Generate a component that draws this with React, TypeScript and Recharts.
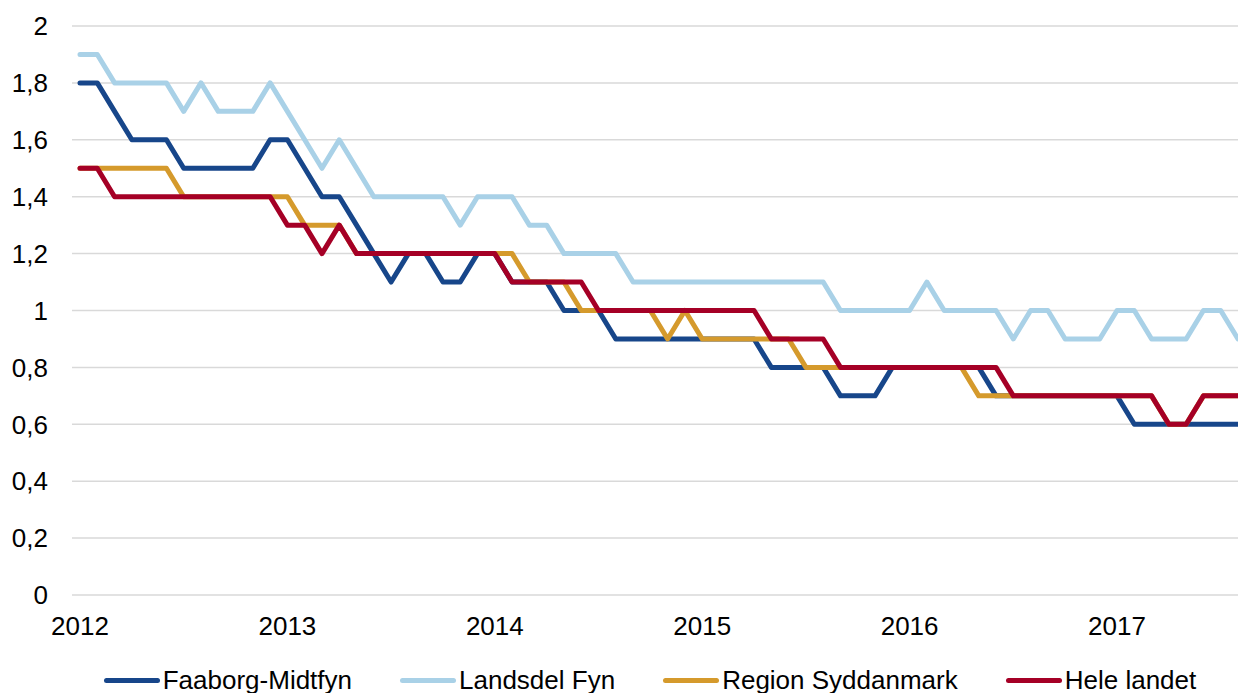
import { LineChart, Line, XAxis, YAxis, CartesianGrid, Legend } from "recharts";

const years = ["2012", "2013", "2014", "2015", "2016", "2017"];
const monthNums = ["01", "02", "03", "04", "05", "06", "07", "08", "09", "10", "11", "12"];

// monthly categories, jan 2012 .. aug 2017
const months = years.flatMap((y) => monthNums.map((m) => `${y}-${m}`)).slice(0, 68);
const yearTicks = years.map((y) => `${y}-01`);
const yTicks = [0, 0.2, 0.4, 0.6, 0.8, 1, 1.2, 1.4, 1.6, 1.8, 2];

const faaborg = [
  1.8, 1.8, 1.7, 1.6, 1.6, 1.6, 1.5, 1.5, 1.5, 1.5, 1.5, 1.6,
  1.6, 1.5, 1.4, 1.4, 1.3, 1.2, 1.1, 1.2, 1.2, 1.1, 1.1, 1.2,
  1.2, 1.1, 1.1, 1.1, 1.0, 1.0, 1.0, 0.9, 0.9, 0.9, 0.9, 0.9,
  0.9, 0.9, 0.9, 0.9, 0.8, 0.8, 0.8, 0.8, 0.7, 0.7, 0.7, 0.8,
  0.8, 0.8, 0.8, 0.8, 0.8, 0.7, 0.7, 0.7, 0.7, 0.7, 0.7, 0.7,
  0.7, 0.6, 0.6, 0.6, 0.6, 0.6, 0.6, 0.6,
];

const landsdel = [
  1.9, 1.9, 1.8, 1.8, 1.8, 1.8, 1.7, 1.8, 1.7, 1.7, 1.7, 1.8,
  1.7, 1.6, 1.5, 1.6, 1.5, 1.4, 1.4, 1.4, 1.4, 1.4, 1.3, 1.4,
  1.4, 1.4, 1.3, 1.3, 1.2, 1.2, 1.2, 1.2, 1.1, 1.1, 1.1, 1.1,
  1.1, 1.1, 1.1, 1.1, 1.1, 1.1, 1.1, 1.1, 1.0, 1.0, 1.0, 1.0,
  1.0, 1.1, 1.0, 1.0, 1.0, 1.0, 0.9, 1.0, 1.0, 0.9, 0.9, 0.9,
  1.0, 1.0, 0.9, 0.9, 0.9, 1.0, 1.0, 0.9,
];

const region = [
  1.5, 1.5, 1.5, 1.5, 1.5, 1.5, 1.4, 1.4, 1.4, 1.4, 1.4, 1.4,
  1.4, 1.3, 1.3, 1.3, 1.2, 1.2, 1.2, 1.2, 1.2, 1.2, 1.2, 1.2,
  1.2, 1.2, 1.1, 1.1, 1.1, 1.0, 1.0, 1.0, 1.0, 1.0, 0.9, 1.0,
  0.9, 0.9, 0.9, 0.9, 0.9, 0.9, 0.8, 0.8, 0.8, 0.8, 0.8, 0.8,
  0.8, 0.8, 0.8, 0.8, 0.7, 0.7, 0.7, 0.7, 0.7, 0.7, 0.7, 0.7,
  0.7, 0.7, 0.7, 0.6, 0.6, 0.7, 0.7, 0.7,
];

const hele = [
  1.5, 1.5, 1.4, 1.4, 1.4, 1.4, 1.4, 1.4, 1.4, 1.4, 1.4, 1.4,
  1.3, 1.3, 1.2, 1.3, 1.2, 1.2, 1.2, 1.2, 1.2, 1.2, 1.2, 1.2,
  1.2, 1.1, 1.1, 1.1, 1.1, 1.1, 1.0, 1.0, 1.0, 1.0, 1.0, 1.0,
  1.0, 1.0, 1.0, 1.0, 0.9, 0.9, 0.9, 0.9, 0.8, 0.8, 0.8, 0.8,
  0.8, 0.8, 0.8, 0.8, 0.8, 0.8, 0.7, 0.7, 0.7, 0.7, 0.7, 0.7,
  0.7, 0.7, 0.7, 0.6, 0.6, 0.7, 0.7, 0.7,
];

const series = [
  { key: "Faaborg-Midtfyn", values: faaborg, color: "#17468a" },
  { key: "Landsdel Fyn", values: landsdel, color: "#a9d1e7" },
  { key: "Region Syddanmark", values: region, color: "#d59a2c" },
  { key: "Hele landet", values: hele, color: "#a50026" },
];

const data = months.map((m, i) => {
  const row: Record<string, string | number> = { month: m };
  series.forEach((s) => {
    row[s.key] = s.values[i];
  });
  return row;
});

const FONT = "'Liberation Sans', Arial, sans-serif";

function LegendRow() {
  return (
    <div
      style={{
        height: 40,
        boxSizing: "border-box",
        paddingTop: 14,
        display: "flex",
        justifyContent: "center",
        alignItems: "center",
        gap: 48,
        fontFamily: FONT,
        fontSize: 26,
        color: "#000",
        paddingLeft: 62,
      }}
    >
      {series.map((s) => (
        <div key={s.key} style={{ display: "flex", alignItems: "center", gap: 3 }}>
          <span
            style={{
              display: "inline-block",
              width: 56,
              height: 5,
              borderRadius: 3,
              background: s.color,
            }}
          />
          <span style={{ lineHeight: "26px" }}>{s.key}</span>
        </div>
      ))}
    </div>
  );
}

export default function App() {
  return (
    <div style={{ position: "absolute", left: 0, top: 0, width: 1238, height: 693, background: "#fff" }}>
      <LineChart width={1238} height={693} data={data} margin={{ top: 26, right: 0, bottom: 0, left: 0 }}>
        <CartesianGrid vertical={false} stroke="#d9d9d9" strokeWidth={1.5} />
        <XAxis
          dataKey="month"
          ticks={yearTicks}
          tickFormatter={(v: string) => v.slice(0, 4)}
          interval={0}
          padding={{ left: 8, right: 0 }}
          axisLine={false}
          tickLine={false}
          tickSize={0}
          tickMargin={22}
          height={58}
          tick={{ fill: "#000", fontSize: 26, fontFamily: FONT }}
        />
        <YAxis
          domain={[0, 2]}
          ticks={yTicks}
          tickFormatter={(v: number) => String(v).replace(".", ",")}
          axisLine={false}
          tickLine={false}
          tickSize={0}
          tickMargin={24}
          width={72}
          tick={{ fill: "#000", fontSize: 26, fontFamily: FONT }}
        />
        <Legend verticalAlign="bottom" content={() => <LegendRow />} />
        {series.map((s) => (
          <Line
            key={s.key}
            type="linear"
            dataKey={s.key}
            stroke={s.color}
            strokeWidth={5}
            strokeLinejoin="round"
            strokeLinecap="round"
            dot={false}
            activeDot={false}
            isAnimationActive={false}
          />
        ))}
      </LineChart>
    </div>
  );
}
